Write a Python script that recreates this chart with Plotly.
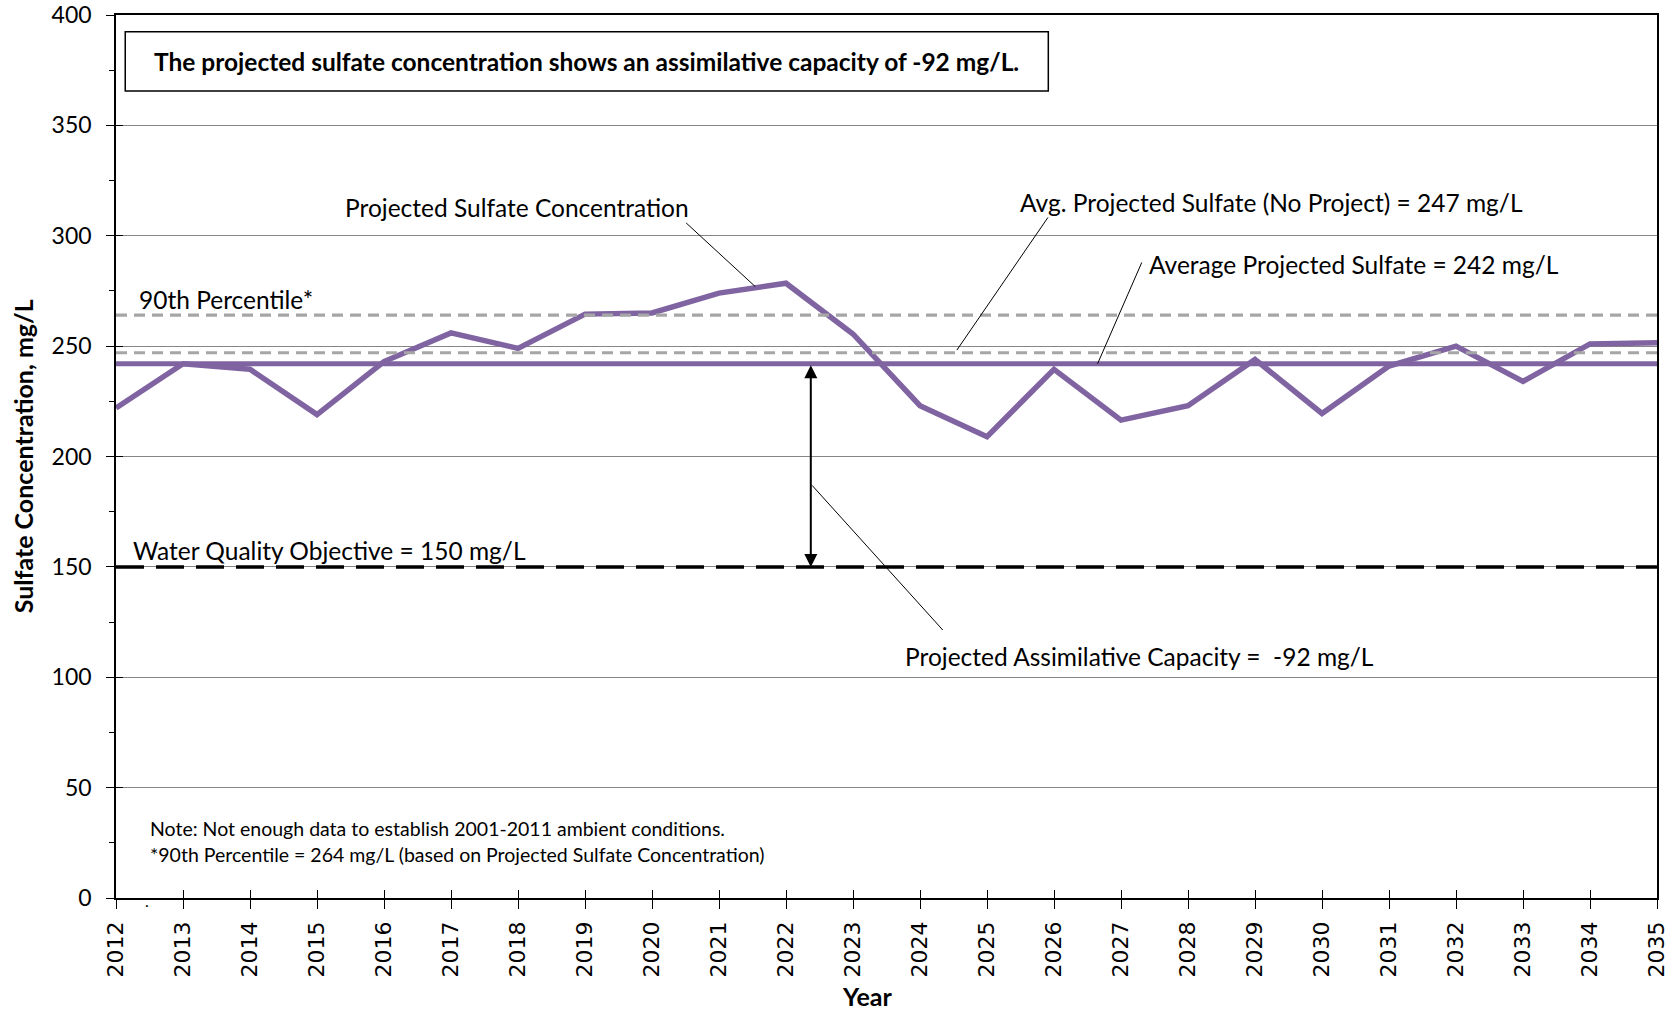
import plotly.graph_objects as go

# Projected sulfate concentration by year (mg/L)
years = list(range(2012, 2036))
projected_sulfate = [222, 242, 239.5, 219, 243, 256, 249, 264.5, 265, 274, 278.5, 255.5,
                     223, 209, 239.5, 216.5, 223, 244, 219.5, 241, 250, 234, 251, 251.5]

# Reference levels (mg/L)
avg_projected = 242
avg_no_project = 247
percentile_90 = 264
water_quality_objective = 150

y_ticks = [0, 50, 100, 150, 200, 250, 300, 350, 400]
x_ticks = years

PURPLE = "#8064A2"
GREY_DASH = "#A6A6A6"
FONT = "Lato"

x_span = [years[0], years[-1]]

fig = go.Figure()

fig.add_trace(go.Scatter(x=years, y=projected_sulfate, mode="lines",
                         line=dict(color=PURPLE, width=5.5), hoverinfo="skip"))
fig.add_trace(go.Scatter(x=x_span, y=[avg_projected] * 2, mode="lines",
                         line=dict(color=PURPLE, width=5), hoverinfo="skip"))
fig.add_trace(go.Scatter(x=x_span, y=[percentile_90] * 2, mode="lines",
                         line=dict(color=GREY_DASH, width=3.2, dash="11px,7px"), hoverinfo="skip"))
fig.add_trace(go.Scatter(x=x_span, y=[avg_no_project] * 2, mode="lines",
                         line=dict(color=GREY_DASH, width=3.2, dash="11px,7px"), hoverinfo="skip"))
fig.add_trace(go.Scatter(x=x_span, y=[water_quality_objective] * 2, mode="lines",
                         line=dict(color="black", width=3.5, dash="28px,12px"), hoverinfo="skip"))
# invisible trace so the overlay axes (inside tick marks) are drawn
fig.add_trace(go.Scatter(x=x_span, y=[0, 400], mode="lines", xaxis="x2", yaxis="y2",
                         line=dict(width=0), opacity=0, hoverinfo="skip"))

label_font = dict(family=FONT, size=24.5, color="black")

# Callout labels
callouts = [
    (2015.39, 312.6, "Projected Sulfate Concentration"),
    (2025.46, 315.1, "Avg. Projected Sulfate (No Project) = 247 mg/L"),
    (2027.39, 286.9, "Average Projected Sulfate = 242 mg/L"),
    (2023.75, 109.2, "Projected Assimilative Capacity =  -92 mg/L"),
    (2012.32, 270.9, "90th Percentile*"),
    (2012.22, 157.3, "Water Quality Objective = 150 mg/L"),
]
for cx, cy, txt in callouts:
    fig.add_annotation(x=cx, y=cy, text=txt, showarrow=False, xanchor="left",
                       yanchor="middle", font=label_font)

# Leader lines from labels to their lines
leaders = [
    (2020.51, 305.8, 2021.54, 277.0),
    (2025.91, 308.3, 2024.55, 248.2),
    (2027.31, 287.9, 2026.65, 242.0),
    (2024.34, 121.4, 2022.39, 186.9),
]
for x0, y0, x1, y1 in leaders:
    fig.add_shape(type="line", x0=x0, y0=y0, x1=x1, y1=y1,
                  line=dict(color="black", width=1))

# Double-headed arrow spanning the assimilative capacity
arrow_x = 2022.37
fig.add_annotation(x=arrow_x, y=water_quality_objective, ax=arrow_x, ay=avg_projected,
                   xref="x", yref="y", axref="x", ayref="y", text="", showarrow=True,
                   arrowhead=2, startarrowhead=2, arrowside="end+start", arrowsize=1.3,
                   startarrowsize=1.3, arrowwidth=2, arrowcolor="black")

# Summary box
fig.add_shape(type="rect", xref="paper", yref="paper", x0=0.006, x1=0.605, y0=0.914, y1=0.981,
              line=dict(color="black", width=1.5), fillcolor="white")
fig.add_annotation(xref="paper", yref="paper", x=0.3055, y=0.9475,
                   text="<b>The projected sulfate concentration shows an assimilative capacity of -92 mg/L.</b>",
                   showarrow=False, xanchor="center", yanchor="middle",
                   font=dict(family=FONT, size=24.5, color="black"))

# Notes
note_font = dict(family=FONT, size=19.5, color="black")
fig.add_annotation(x=2012.48, y=31.7, text="Note: Not enough data to establish 2001-2011 ambient conditions.",
                   showarrow=False, xanchor="left", yanchor="middle", font=note_font)
fig.add_annotation(x=2012.48, y=19.9, text="*90th Percentile = 264 mg/L (based on Projected Sulfate Concentration)",
                   showarrow=False, xanchor="left", yanchor="middle", font=note_font)

# Axis titles
fig.add_annotation(xref="paper", yref="paper", x=-0.0605, y=0.5, text="<b>Sulfate Concentration, mg/L</b>",
                   textangle=-90, showarrow=False, xanchor="center", yanchor="middle",
                   font=dict(family=FONT, size=25, color="black"))
fig.add_annotation(xref="paper", yref="paper", x=0.4875, y=-0.111, text="<b>Year</b>",
                   showarrow=False, xanchor="center", yanchor="middle",
                   font=dict(family=FONT, size=25, color="black"))
fig.add_annotation(xref="paper", yref="paper", x=0.0175, y=-0.0155, text=".",
                   showarrow=False, font=dict(family=FONT, size=16, color="black"))

fig.update_layout(
    width=1680, height=1010,
    margin=dict(l=116, r=23, t=15, b=112, autoexpand=False),
    paper_bgcolor="white", plot_bgcolor="white",
    showlegend=False,
    xaxis=dict(range=[2012, 2035], tickmode="array", tickvals=x_ticks,
               ticktext=[str(y) for y in x_ticks], tickangle=-90,
               tickfont=dict(family="DejaVu Sans", size=22, color="black"),
               ticks="outside", ticklen=9, tickwidth=1.2, tickcolor="black",
               showline=True, linecolor="black", linewidth=1.5, mirror=True,
               showgrid=False, zeroline=False, ticklabelstandoff=4, automargin=False),
    yaxis=dict(range=[0, 400], tickmode="array", tickvals=y_ticks,
               tickfont=dict(family=FONT, size=23, color="black"),
               ticks="outside", ticklen=8, tickwidth=1.2, tickcolor="black",
               minor=dict(dtick=25, ticks="outside", ticklen=5, tickcolor="black", tickwidth=1),
               showline=True, linecolor="black", linewidth=1.5, mirror=True,
               showgrid=True, gridcolor="#868686", gridwidth=1, zeroline=False,
               ticklabelstandoff=10, automargin=False),
    xaxis2=dict(overlaying="x", matches="x", anchor="y2", side="bottom", range=[2012, 2035],
                tickmode="array", tickvals=x_ticks, showticklabels=False,
                ticks="inside", ticklen=8, tickwidth=1.2, tickcolor="black",
                showgrid=False, zeroline=False, showline=False, automargin=False),
    yaxis2=dict(overlaying="y", matches="y", anchor="x2", side="left", range=[0, 400],
                tickmode="array", tickvals=y_ticks, showticklabels=False,
                ticks="inside", ticklen=7, tickwidth=1.2, tickcolor="black",
                showgrid=False, zeroline=False, showline=False, automargin=False),
)

fig.write_html("out.html")
